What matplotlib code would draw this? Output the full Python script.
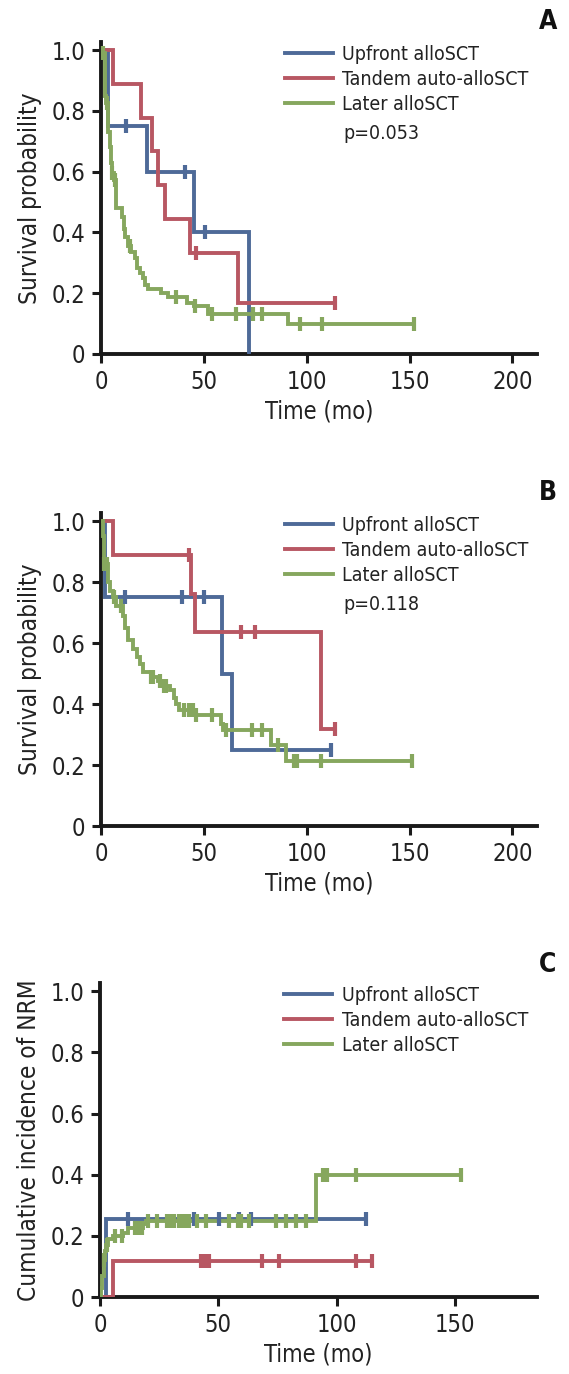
import numpy as np
import matplotlib
matplotlib.use("Agg")
import matplotlib.pyplot as plt
from matplotlib import font_manager

names = {f.name for f in font_manager.fontManager.ttflist}
if 'Liberation Sans Narrow' in names:
    plt.rcParams['font.family'] = ['Liberation Sans Narrow', 'DejaVu Sans']
else:
    plt.rcParams['font.family'] = ['DejaVu Sans']
    plt.rcParams['font.stretch'] = 'condensed'

BLUE = '#4E6A98'
RED = '#B85763'
GREEN = '#86A75E'

labels = ['Upfront alloSCT', 'Tandem auto-alloSCT', 'Later alloSCT']

# ---- panel A: overall survival ----
a_up_t = [0, 3.5, 22.5, 45, 72]
a_up_s = [1.0, 0.75, 0.60, 0.40, 0.0]
a_up_end = 72
a_up_cens = [12, 40.8, 50.8]

a_tan_t = [0, 6, 19.4, 24.6, 27.5, 31, 43.5, 66.7]
a_tan_s = [1.0, 0.889, 0.778, 0.667, 0.556, 0.444, 0.333, 0.167]
a_tan_end = 114
a_tan_cens = [46.4, 114]

a_lat_t = [0, 1.0, 2.0, 2.6, 3.4, 4.2, 4.7, 5.2, 6.3, 7.3, 10.0, 11.0, 11.8, 13.2,
           14.8, 16.5, 17.3, 18.9, 20.5, 21.4, 23.0, 29.4, 32.7, 41.6, 45.0, 52.1, 91.0]
a_lat_s = [1.0, 0.99, 0.85, 0.825, 0.73, 0.68, 0.63, 0.595, 0.573, 0.48, 0.45, 0.41, 0.385,
           0.355, 0.337, 0.315, 0.283, 0.266, 0.25, 0.228, 0.214, 0.20, 0.187, 0.168, 0.159,
           0.13, 0.099]
a_lat_end = 152
a_lat_cens = [1.1, 2.8, 5.5, 6.8, 14.1, 36.4, 45.6, 54.2, 65.4, 74, 78.3, 96.6, 107.6, 152]

# ---- panel B: second survival endpoint ----
b_up_t = [0, 2, 59, 63.6]
b_up_s = [1.0, 0.75, 0.50, 0.25]
b_up_end = 111.6
b_up_cens = [11.8, 39.6, 50.2, 111.6]

b_tan_t = [0, 5.7, 43.7, 45.8, 106.8]
b_tan_s = [1.0, 0.889, 0.762, 0.635, 0.318]
b_tan_end = 113.6
b_tan_cens = [42.6, 68, 74.8, 113.6]

b_lat_t = [0, 0.8, 1.3, 3.2, 4.5, 5.7, 7.3, 10.5, 11.8, 13.3, 15.5, 17.5, 19.1, 20.4, 24.3,
           27.5, 29.9, 33.7, 35.3, 36.6, 37.9, 45.3, 58.3, 59.5, 82.5, 89.8]
b_lat_s = [1.0, 0.95, 0.86, 0.80, 0.77, 0.75, 0.72, 0.69, 0.65, 0.61, 0.58, 0.555, 0.53,
           0.505, 0.49, 0.475, 0.46, 0.445, 0.42, 0.40, 0.38, 0.365, 0.335, 0.314, 0.265, 0.213]
b_lat_end = 151
b_lat_cens = [1.5, 3.0, 6.5, 9.7, 24.5, 25.3, 28.5, 30.5, 31.5, 40.3, 43, 44.5, 46, 54, 61,
              73.6, 78.2, 86, 94, 95.5, 106.8, 151]

# ---- panel C: cumulative incidence of NRM ----
c_up_t = [0, 2.4]
c_up_s = [0.0, 0.256]
c_up_end = 112.5
c_up_cens = [11.8, 39.7, 50.4, 58.9, 63.8, 112.5]

c_tan_t = [0, 5.7]
c_tan_s = [0.0, 0.118]
c_tan_end = 114.8
c_tan_cens = [42.5, 44.5, 46, 68.5, 75.6, 108.2, 114.8]

c_lat_t = [0, 0.5, 1.0, 1.5, 2.0, 2.5, 3.5, 5.5, 9.8, 12.0, 18.0, 19.5, 91.2]
c_lat_s = [0.0, 0.03, 0.07, 0.12, 0.15, 0.17, 0.19, 0.20, 0.21, 0.225, 0.24, 0.25, 0.398]
c_lat_end = 152.5
c_lat_cens = [1.8, 2.8, 6.4, 9.2, 14.9, 16.3, 17.7, 20.3, 24.1, 28.4, 29.8, 31.2, 33.3, 34.8,
              36.2, 37.6, 41.1, 44.7, 54.6, 58.2, 59.6, 63.1, 74.5, 78.4, 83, 87, 94.3, 96,
              108.2, 152.5]


def draw_curve(ax, t, s, end, cens, color, label):
    t = list(t)
    s = list(s)
    if end > t[-1]:
        t.append(end)
        s.append(s[-1])
    ax.step(t, s, where='post', color=color, lw=2.8, label=label, zorder=3,
            solid_joinstyle='miter')
    t_arr = np.array(t)
    s_arr = np.array(s)
    c = np.array(cens)
    idx = np.searchsorted(t_arr, c, side='right') - 1
    ax.plot(c, s_arr[idx], ls='none', marker='|', ms=9.5, mew=3.0, color=color,
            zorder=4, clip_on=False)


fig = plt.figure(figsize=(5.69, 13.74), dpi=100)

ax_a = fig.add_axes([0.1775, 0.7424, 0.7663, 0.2271])
ax_b = fig.add_axes([0.1775, 0.3988, 0.7663, 0.2280])
ax_c = fig.add_axes([0.1757, 0.0560, 0.7675, 0.2286])

draw_curve(ax_a, a_up_t, a_up_s, a_up_end, a_up_cens, BLUE, labels[0])
draw_curve(ax_a, a_tan_t, a_tan_s, a_tan_end, a_tan_cens, RED, labels[1])
draw_curve(ax_a, a_lat_t, a_lat_s, a_lat_end, a_lat_cens, GREEN, labels[2])

draw_curve(ax_b, b_up_t, b_up_s, b_up_end, b_up_cens, BLUE, labels[0])
draw_curve(ax_b, b_tan_t, b_tan_s, b_tan_end, b_tan_cens, RED, labels[1])
draw_curve(ax_b, b_lat_t, b_lat_s, b_lat_end, b_lat_cens, GREEN, labels[2])

draw_curve(ax_c, c_up_t, c_up_s, c_up_end, c_up_cens, BLUE, labels[0])
draw_curve(ax_c, c_tan_t, c_tan_s, c_tan_end, c_tan_cens, RED, labels[1])
draw_curve(ax_c, c_lat_t, c_lat_s, c_lat_end, c_lat_cens, GREEN, labels[2])

yticks = [0, 0.2, 0.4, 0.6, 0.8, 1.0]
ytick_labels = ['0', '0.2', '0.4', '0.6', '0.8', '1.0']

for ax, xmax, xticks, ylab in [
        (ax_a, 212, [0, 50, 100, 150, 200], 'Survival probability'),
        (ax_b, 212, [0, 50, 100, 150, 200], 'Survival probability'),
        (ax_c, 184.5, [0, 50, 100, 150], 'Cumulative incidence of NRM')]:
    ax.set_xlim(0, xmax)
    ax.set_ylim(0, 1.027)
    ax.set_xticks(xticks)
    ax.set_yticks(yticks)
    ax.set_yticklabels(ytick_labels)
    for side in ['top', 'right']:
        ax.spines[side].set_visible(False)
    for side in ['left', 'bottom']:
        ax.spines[side].set_linewidth(2.8)
        ax.spines[side].set_color('#1a1a1a')
    ax.tick_params(direction='out', length=6.5, width=2.2, color='#1a1a1a',
                   labelsize=17, pad=5, labelcolor='#222222')
    ax.set_xlabel('Time (mo)', fontsize=17, color='#222222', labelpad=4)
    ax.set_ylabel(ylab, fontsize=17.5, color='#222222')
    ax.yaxis.set_label_coords(-0.135, 0.5)
    leg = ax.legend(loc='upper left', bbox_to_anchor=(0.422, 0.99), frameon=False,
                    fontsize=14, handlelength=2.45, handletextpad=0.5, labelspacing=0.3,
                    borderpad=0, borderaxespad=0, labelcolor='#222222')
    for h in leg.get_lines():
        h.set_linewidth(2.8)

ax_a.text(0.555, 0.708, 'p=0.053', transform=ax_a.transAxes, fontsize=14,
          va='center', ha='left', color='#222222')
ax_b.text(0.555, 0.708, 'p=0.118', transform=ax_b.transAxes, fontsize=14,
          va='center', ha='left', color='#222222')

for lab, y in [('A', 0.984), ('B', 0.641), ('C', 0.298)]:
    fig.text(0.963, y, lab, fontsize=19, fontweight='bold', ha='center', va='center',
             color='#111111')

fig.savefig('out.png', dpi=100)
